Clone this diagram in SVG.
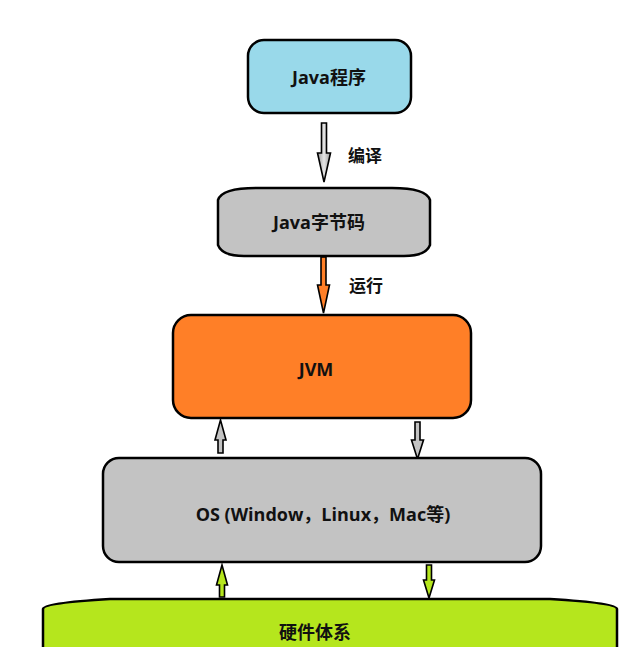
<svg xmlns="http://www.w3.org/2000/svg" width="642" height="647" viewBox="0 0 642 647">
<style>
.box{stroke:#000;stroke-width:2.5}
.arr{stroke:#000;stroke-width:1.6;stroke-linejoin:miter}
.t{font-family:"Open Sans","Noto Sans CJK SC","DejaVu Sans",sans-serif;font-weight:bold;font-size:18px;fill:#111;text-anchor:middle;dominant-baseline:central}
.lbl{font-family:"Open Sans","Noto Sans CJK SC","DejaVu Sans",sans-serif;font-weight:bold;font-size:17px;fill:#111;dominant-baseline:central}
</style>
<defs>
<linearGradient id="gg" x1="0" y1="0" x2="1" y2="0">
<stop offset="0" stop-color="#9a9a9a"/><stop offset="0.5" stop-color="#e6e6e6"/><stop offset="1" stop-color="#9a9a9a"/>
</linearGradient>
</defs>
<rect width="642" height="647" fill="#fff"/>
<g id="connectors">
<path class="arr" fill="url(#gg)" d="M321.5,123 L326.5,123 L326.5,153 L330.5,153 L324,182 L317.5,153 L321.5,153 Z"/>
<text class="lbl" x="348" y="155">编译</text>
<path class="arr" fill="#ff7f27" d="M321,257 L326,257 L326,285 L329.5,285 L323.5,313 L317.5,285 L321,285 Z"/>
<text class="lbl" x="349" y="285">运行</text>
<path class="arr" fill="#c3c3c3" d="M218,453 L223,453 L223,440 L226,440 L220.5,420 L215,440 L218,440 Z"/>
<path class="arr" fill="#c3c3c3" d="M415,422 L420,422 L420,440 L423.5,440 L417.5,459 L411.5,440 L415,440 Z"/>
<path class="arr" fill="#b5e61d" d="M219.5,597 L224.5,597 L224.5,585 L227.5,585 L222,565 L216.5,585 L219.5,585 Z"/>
<path class="arr" fill="#b5e61d" d="M426.5,565 L431.5,565 L431.5,580 L434.5,580 L429,598 L423.5,580 L426.5,580 Z"/>
</g>
<g id="java-program">
<rect class="box" x="248" y="40" width="163" height="73" rx="16" fill="#99d9ea"/>
<text class="t" x="329" y="77">Java程序</text>
</g>
<g id="bytecode">
<path class="box" fill="#c3c3c3" d="M218,200 Q222,188 256,188 L392,188 Q426,188 430,200 L430,245 Q426,256 404,256 L244,256 Q222,256 218,245 Z"/>
<text class="t" x="319" y="222">Java字节码</text>
</g>
<g id="jvm">
<rect class="box" x="173" y="315" width="298" height="103" rx="18" fill="#ff7f27"/>
<text class="t" x="316" y="369">JVM</text>
</g>
<g id="os">
<rect class="box" x="103" y="458" width="438" height="104" rx="16" fill="#c3c3c3"/>
<text class="t" x="323" y="514">OS (Window，Linux，Mac等)</text>
</g>
<g id="hardware">
<path class="box" fill="#b5e61d" d="M43,660 L43,609 Q43,603 110,599 L550,599 Q617,603 617,609 L617,660"/>
<text class="t" x="315" y="632">硬件体系</text>
</g>
</svg>
